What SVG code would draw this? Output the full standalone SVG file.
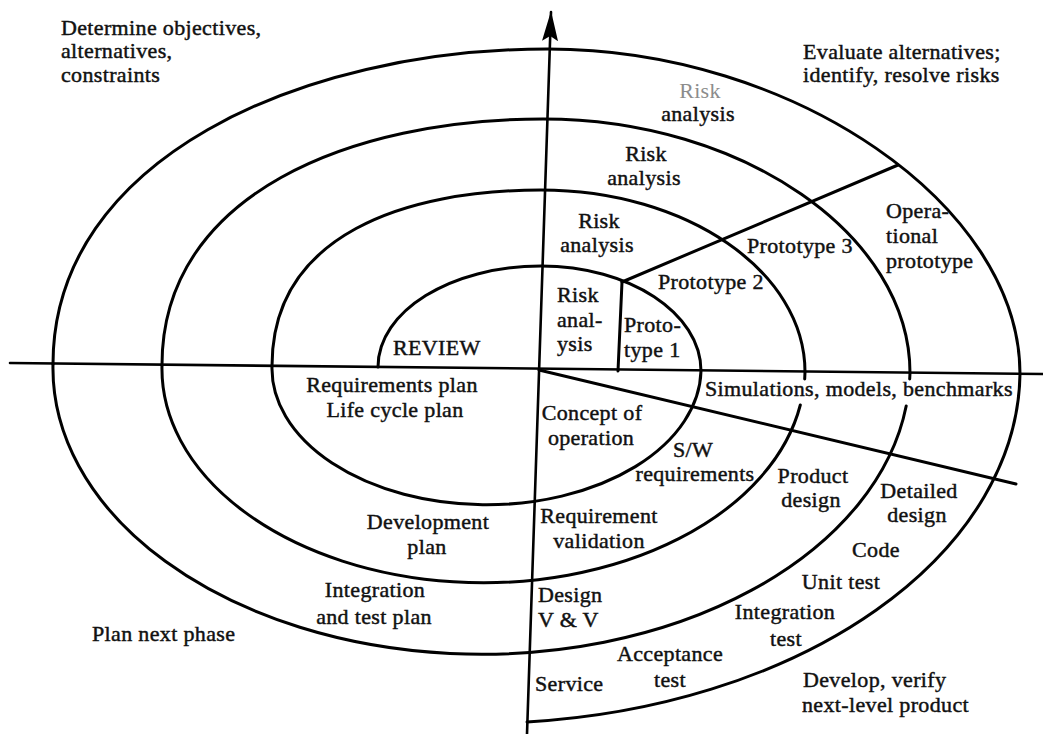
<svg xmlns="http://www.w3.org/2000/svg" width="1043" height="734" viewBox="0 0 1043 734">
  <style>
    .line { fill: none; stroke: #000; stroke-linecap: round; stroke-linejoin: round; }
    .spiral { stroke-width: 3; }
    .axis { stroke-width: 2.6; }
    .div { stroke-width: 3; }
    text { font-family: "Liberation Serif", "Times New Roman", serif; font-size: 22px; letter-spacing: 0.35px; fill: #111; stroke: #111; stroke-width: 0.45; }
    .c { text-anchor: middle; }
    .faded { fill: #8c8c8c; stroke: none; }
  </style>
  <defs>
    <marker id="arrow" markerUnits="userSpaceOnUse" markerWidth="32" markerHeight="16" viewBox="0 0 32 16" refX="29" refY="8" orient="auto">
      <path d="M0,0 L30,8 L0,16 L5,8 z" fill="#000"/>
    </marker>
  </defs>
  <rect width="1043" height="734" fill="#fff"/>

  <!-- connectors: axes, spiral and sector dividers -->
  <g id="connectors">
    <g id="axes">
      <line class="line axis" x1="10" y1="363" x2="1043" y2="374"/>
      <line class="line axis" x1="527" y1="734" x2="551" y2="12" marker-end="url(#arrow)"/>
    </g>
    <g id="spiral">
      <!-- cycle 1 -->
      <path class="line spiral" d="M378,367 C378,311.2 451,266 541,266 C629.3,266 701,313 701,371 A214 136 0 0 1 272,366"/>
      <!-- cycle 2 -->
      <path class="line spiral" d="M272,366 C272,234 406.5,190 541,190 C686.7,190 805,271.5 805,372 L804.7,379"/>
      <path class="line spiral" d="M800.3,405 A321.5 214 0 0 1 162,365"/>
      <!-- cycle 3 -->
      <path class="line spiral" d="M162,365 C162,193 352.5,119 543,119 C743,119 910,235 910,373 L909.7,379"/>
      <path class="line spiral" d="M906.2,406 A428.5 286 0 0 1 53,364"/>
      <!-- cycle 4 -->
      <path class="line spiral" d="M53,364 C53,159.2 300.5,49 548,49 C793,49 1020,205 1020,374 A541 353 0 0 1 527,722"/>
    </g>
    <g id="dividers">
      <line class="line div" x1="622" y1="282" x2="898" y2="165"/>
      <line class="line div" x1="622" y1="282" x2="618" y2="371"/>
      <line class="line div" x1="539" y1="370" x2="1016" y2="484"/>
    </g>
  </g>

  <!-- quadrant headings -->
  <g id="q-objectives">
    <text x="61" y="35">Determine objectives,</text>
    <text x="61" y="58">alternatives,</text>
    <text x="61" y="82">constraints</text>
  </g>
  <g id="q-evaluate">
    <text x="803" y="59">Evaluate alternatives;</text>
    <text x="803" y="82">identify, resolve risks</text>
  </g>
  <g id="q-plan">
    <text x="92" y="641">Plan next phase</text>
  </g>
  <g id="q-develop">
    <text x="803" y="687">Develop, verify</text>
    <text x="802" y="712">next-level product</text>
  </g>

  <!-- risk analysis sectors -->
  <g id="risk-4">
    <text class="c faded" x="700" y="98">Risk</text>
    <text class="c" x="698" y="121">analysis</text>
  </g>
  <g id="risk-3">
    <text class="c" x="646" y="161">Risk</text>
    <text class="c" x="644" y="185">analysis</text>
  </g>
  <g id="risk-2">
    <text class="c" x="599" y="228">Risk</text>
    <text class="c" x="597" y="252">analysis</text>
  </g>
  <g id="risk-1">
    <text x="557" y="302">Risk</text>
    <text x="557" y="327">anal-</text>
    <text x="557" y="351">ysis</text>
  </g>

  <!-- prototypes -->
  <g id="proto-1">
    <text x="624" y="332">Proto-</text>
    <text x="624" y="357">type 1</text>
  </g>
  <g id="proto-2"><text x="658" y="289">Prototype 2</text></g>
  <g id="proto-3"><text x="747" y="253">Prototype 3</text></g>
  <g id="proto-op">
    <text x="886" y="218">Opera-</text>
    <text x="886" y="243">tional</text>
    <text x="886" y="268">prototype</text>
  </g>
  <g id="review"><text x="393" y="355">REVIEW</text></g>
  <g id="simulations"><text x="705" y="396">Simulations, models, benchmarks</text></g>

  <!-- planning sectors -->
  <g id="req-plan">
    <text class="c" x="392" y="392">Requirements plan</text>
    <text class="c" x="395" y="417">Life cycle plan</text>
  </g>
  <g id="dev-plan">
    <text class="c" x="428" y="529">Development</text>
    <text class="c" x="427" y="554">plan</text>
  </g>
  <g id="int-plan">
    <text class="c" x="375" y="597">Integration</text>
    <text class="c" x="374" y="624">and test plan</text>
  </g>

  <!-- development sectors -->
  <g id="concept">
    <text class="c" x="592" y="420">Concept of</text>
    <text class="c" x="591" y="445">operation</text>
  </g>
  <g id="sw-req">
    <text class="c" x="693" y="457">S/W</text>
    <text class="c" x="695" y="481">requirements</text>
  </g>
  <g id="req-val">
    <text class="c" x="599" y="523">Requirement</text>
    <text class="c" x="599" y="548">validation</text>
  </g>
  <g id="product-design">
    <text class="c" x="813" y="483">Product</text>
    <text class="c" x="811" y="507">design</text>
  </g>
  <g id="detailed-design">
    <text class="c" x="919" y="498">Detailed</text>
    <text class="c" x="917" y="522">design</text>
  </g>
  <g id="code"><text class="c" x="876" y="557">Code</text></g>
  <g id="unit-test"><text class="c" x="841" y="589">Unit test</text></g>
  <g id="int-test">
    <text class="c" x="785" y="619">Integration</text>
    <text class="c" x="786" y="646">test</text>
  </g>
  <g id="design-vv">
    <text x="538" y="602">Design</text>
    <text x="538" y="627">V &amp; V</text>
  </g>
  <g id="acceptance">
    <text class="c" x="670" y="661">Acceptance</text>
    <text class="c" x="670" y="687">test</text>
  </g>
  <g id="service"><text x="535" y="691">Service</text></g>
</svg>
